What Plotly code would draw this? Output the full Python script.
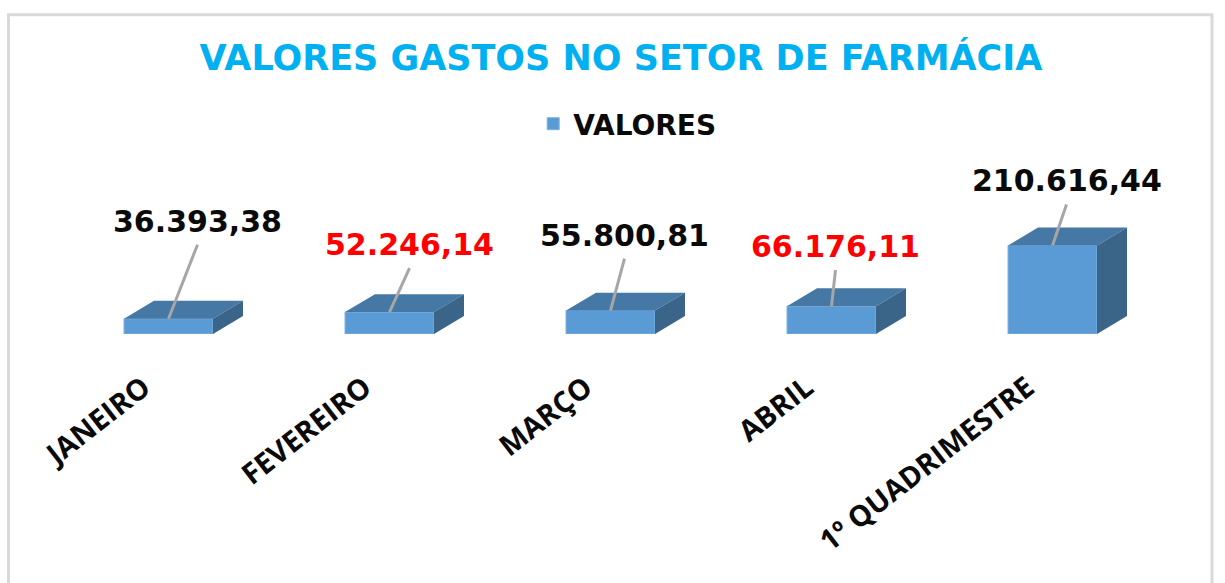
import plotly.graph_objects as go

categories = ["JANEIRO", "FEVEREIRO", "MARÇO", "ABRIL", "1º QUADRIMESTRE"]
values = [36393.38, 52246.14, 55800.81, 66176.11, 210616.44]
value_labels = ["36.393,38", "52.246,14", "55.800,81", "66.176,11", "210.616,44"]
label_colors = ["#0a0a0a", "#ff0000", "#0a0a0a", "#ff0000", "#0a0a0a"]
series_name = "VALORES"
title_text = "VALORES GASTOS NO SETOR DE FARMÁCIA"

# layout constants (pixels)
W, H = 1225, 583
PLOT_L, PLOT_R = 58, 1163
BASE_Y, TOP_Y = 334.5, 150.5
BAR_PX, DEPTH_X, DEPTH_Y = 89, 30, 18
leader_dx = [29, 20, 14, 4, 14]
leader_dy = [-74, -44, -52, -36, -41]

px_per_cat = (PLOT_R - PLOT_L) / len(categories)
px_per_val = 89 / max(values)
y_max = (BASE_Y - TOP_Y) / px_per_val
half = BAR_PX / px_per_cat / 2
dx = DEPTH_X / px_per_cat
dy = DEPTH_Y / px_per_val
positions = list(range(len(categories)))

FRONT, TOP, SIDE = "#5B9BD5", "#4678A5", "#3A6589"

fig = go.Figure()
fig.add_bar(x=positions, y=values, name=series_name, width=2 * half,
            marker=dict(color=FRONT, line=dict(color="#7FB2E0", width=1)),
            showlegend=True, hoverinfo="skip")

shapes = []
for p, v in zip(positions, values):
    l, r = p - half, p + half
    shapes.append(dict(type="path", xref="x", yref="y", layer="above", fillcolor=TOP,
                       line=dict(width=0),
                       path=f"M{l},{v} L{l+dx},{v+dy} L{r+dx},{v+dy} L{r},{v} Z"))
    shapes.append(dict(type="path", xref="x", yref="y", layer="above", fillcolor=SIDE,
                       line=dict(width=0),
                       path=f"M{r},0 L{r+dx},{dy} L{r+dx},{v+dy} L{r},{v} Z"))
# chart frame
shapes.append(dict(type="rect", xref="paper", yref="paper", layer="below",
                   x0=(8.5 - PLOT_L) / (PLOT_R - PLOT_L), x1=(1212 - PLOT_L) / (PLOT_R - PLOT_L),
                   y0=(BASE_Y - 600) / (BASE_Y - TOP_Y), y1=(BASE_Y - 13.5) / (BASE_Y - TOP_Y),
                   line=dict(color="#D9D9D9", width=3), fillcolor="white"))

annotations = []
for p, v, t, c, ax, ay in zip(positions, values, value_labels, label_colors, leader_dx, leader_dy):
    annotations.append(dict(x=p, y=v, xref="x", yref="y", text=t, showarrow=True,
                            arrowhead=0, arrowwidth=3, arrowcolor="#A6A6A6",
                            axref="pixel", ayref="pixel", ax=ax, ay=ay, borderpad=5,
                            xanchor="center", yanchor="bottom",
                            font=dict(family="DejaVu Sans", size=30, color=c, weight="bold")))

fig.update_layout(
    width=W, height=H,
    margin=dict(l=PLOT_L, r=W - PLOT_R, t=TOP_Y, b=H - BASE_Y, autoexpand=False),
    paper_bgcolor="white", plot_bgcolor="rgba(0,0,0,0)",
    title=dict(text=title_text, x=621 / W, y=1 - 58 / H, xanchor="center", yanchor="middle",
               font=dict(family="DejaVu Sans", size=35, color="#00B0F0", weight="bold")),
    legend=dict(orientation="h", x=631 / W, xref="paper", xanchor="center", y=1 - 124 / H,
                yref="container", yanchor="middle", bgcolor="rgba(0,0,0,0)",
                font=dict(family="DejaVu Sans", size=28, color="#0a0a0a", weight="bold")),
    xaxis=dict(range=[-0.5, len(categories) - 0.5], tickmode="array", tickvals=positions,
               ticktext=categories, tickangle=-38, ticks="", showgrid=False, zeroline=False,
               showline=False, ticklabelstandoff=30, ticklabelshift=-25,
               tickfont=dict(family="Open Sans", size=29, color="#0a0a0a", weight="bold")),
    yaxis=dict(range=[0, y_max], visible=False, showgrid=False, zeroline=False),
    shapes=shapes, annotations=annotations,
)
fig.write_html("out.html", config=dict(displayModeBar=False),
               post_script="document.body.style.margin='0';document.body.style.overflow='hidden';")
